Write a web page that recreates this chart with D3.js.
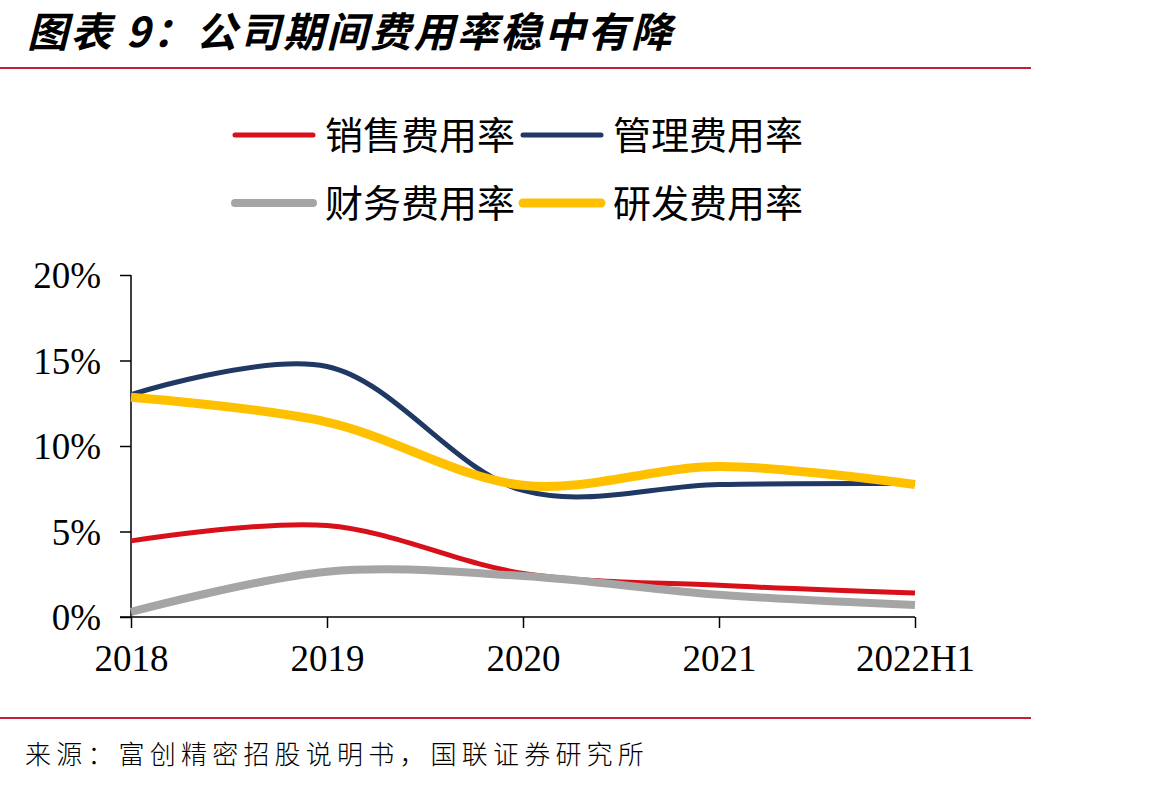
<!DOCTYPE html>
<html>
<head>
<meta charset="utf-8">
<script src="https://cdn.jsdelivr.net/npm/d3@7"></script>
<style>
  body { margin: 0; background: #fff; }
</style>
</head>
<body>
<div id="chart"></div>
<script>
const categories = ["2018", "2019", "2020", "2021", "2022H1"];
const salesRate = [4.45, 5.35, 2.55, 1.85, 1.4];
const adminRate = [13.0, 14.65, 7.4, 7.75, 7.8];
const financeRate = [0.3, 2.65, 2.4, 1.3, 0.7];
const rdRate = [12.85, 11.4, 7.7, 8.8, 7.75];
const yTicks = [0, 5, 10, 15, 20];

const seriesList = [
    { name: "销售费用率", values: salesRate, color: "#D7101A", width: 5 },
    { name: "管理费用率", values: adminRate, color: "#1F3864", width: 5 },
    { name: "财务费用率", values: financeRate, color: "#A5A5A5", width: 8 },
    { name: "研发费用率", values: rdRate, color: "#FFC000", width: 9 }
];

const W = 1164, H = 785;
const svg = d3.select("#chart").append("svg")
    .attr("width", W)
    .attr("height", H);

// title + rules
svg.append("text")
    .attr("x", 27).attr("y", 47)
    .style("font-family", "'Noto Sans CJK SC'")
    .style("font-weight", 700)
    .style("font-style", "italic")
    .style("font-size", "41px")
    .style("letter-spacing", "2.5px")
    .text("图表 9：公司期间费用率稳中有降");

svg.append("line").attr("x1", 0).attr("x2", 1031).attr("y1", 68).attr("y2", 68)
    .attr("stroke", "#C41E3A").attr("stroke-width", 2);
svg.append("line").attr("x1", 0).attr("x2", 1031).attr("y1", 718).attr("y2", 718)
    .attr("stroke", "#C41E3A").attr("stroke-width", 2);

svg.append("text")
    .attr("x", 25).attr("y", 764)
    .style("font-family", "'Noto Sans CJK SC'")
    .style("font-weight", 300)
    .style("font-size", "26px")
    .style("letter-spacing", "5.2px")
    .text("来源：富创精密招股说明书，国联证券研究所");

// scales
const x = d3.scalePoint().domain(categories).range([131, 915]);
const y = d3.scaleLinear().domain([0, 20]).range([617, 275]);

const yAxis = d3.axisLeft(y).tickValues(yTicks).tickSize(11).tickPadding(19)
    .tickFormat(d => d + "%");
const gy = svg.append("g").attr("transform", "translate(131,0)").call(yAxis);

const xAxis = d3.axisBottom(x).tickSize(11).tickPadding(14);
const gx = svg.append("g").attr("transform", "translate(0,617)").call(xAxis);

[gx, gy].forEach(g => {
    g.select(".domain").attr("stroke", "#000").attr("stroke-width", 1.5);
    g.selectAll(".tick line").attr("stroke", "#000").attr("stroke-width", 1.5);
    g.selectAll("text")
        .style("font-family", "'Liberation Serif', 'Times New Roman', serif")
        .style("font-size", "37px")
        .attr("fill", "#000");
});
gy.select(".domain").attr("d", "M0,275V617");
gx.select(".domain").attr("d", "M120,0H915");
gy.selectAll("text").attr("dy", "0.35em");
gx.selectAll("text").attr("dy", "0.78em");

// lines
const line = d3.line()
    .x((d, i) => x(categories[i]))
    .y(d => y(d))
    .curve(d3.curveCatmullRom.alpha(0.5));

svg.append("g").selectAll("path")
    .data(seriesList)
    .enter()
    .append("path")
    .attr("d", d => line(d.values))
    .attr("fill", "none")
    .attr("stroke", d => d.color)
    .attr("stroke-width", d => d.width);

// legend
const legendPos = [[235, 135], [523, 135], [235, 203], [523, 203]];
const legend = svg.append("g").selectAll("g")
    .data(seriesList)
    .enter()
    .append("g")
    .attr("transform", (d, i) => `translate(${legendPos[i][0]},${legendPos[i][1]})`);

legend.append("line")
    .attr("x1", 0).attr("x2", 78)
    .attr("stroke", d => d.color)
    .attr("stroke-width", d => d.width)
    .attr("stroke-linecap", "round");

legend.append("text")
    .attr("x", 90).attr("dy", "0.36em")
    .style("font-family", "'Noto Sans CJK SC'")
    .style("font-size", "38px")
    .text(d => d.name);
</script>
</body>
</html>
